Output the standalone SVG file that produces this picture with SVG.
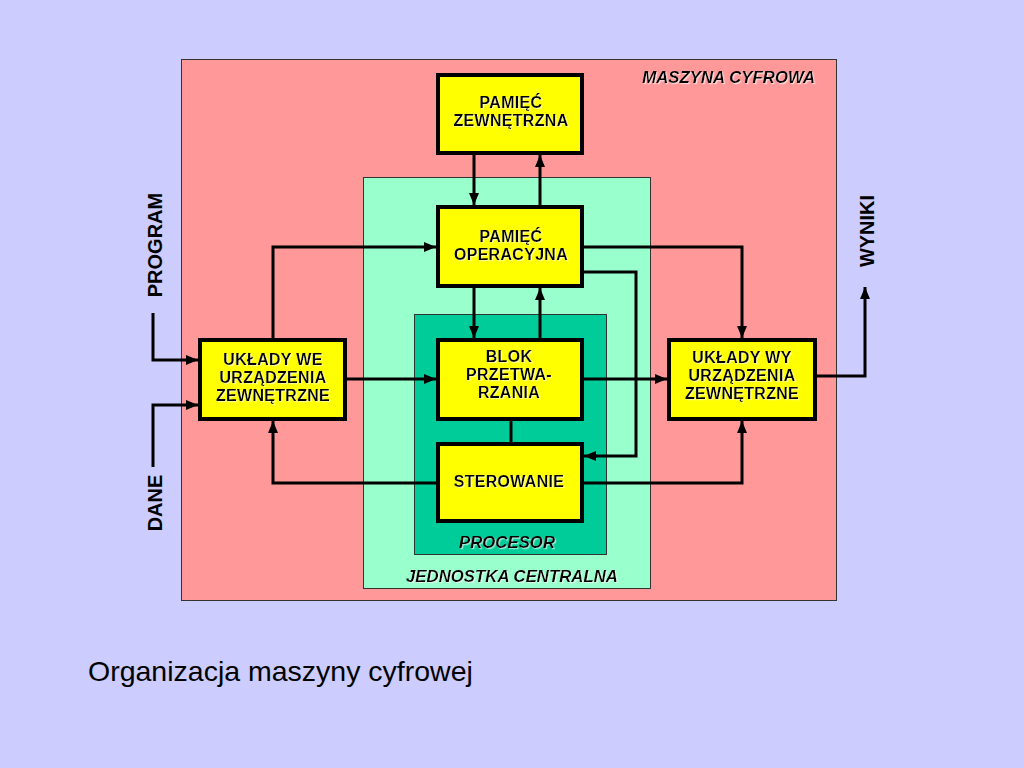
<svg xmlns="http://www.w3.org/2000/svg" width="1024" height="768" viewBox="0 0 1024 768">
<style>
.area{stroke:#333;stroke-width:1}
.box{fill:#FFFF00;stroke:#000;stroke-width:4}
.t{font-family:"Liberation Sans",Arial,sans-serif;font-weight:bold;font-size:16px;letter-spacing:0.3px;fill:#000;text-anchor:middle;filter:url(#sh)}
.lab{font-family:"Liberation Sans",Arial,sans-serif;font-weight:bold;font-style:italic;font-size:16.8px;fill:#000;filter:url(#sh)}
.side{font-family:"Liberation Sans",Arial,sans-serif;font-weight:bold;font-size:20px;fill:#000;text-anchor:middle}
.c{fill:none;stroke:#000;stroke-width:3}
.a{marker-end:url(#ah)}
</style>
<defs>
<marker id="ah" markerUnits="userSpaceOnUse" markerWidth="13" markerHeight="11" refX="12" refY="5" orient="auto">
<path d="M0,0 L12,5 L0,10 z" fill="#000"/>
</marker>
<filter id="sh" x="-10%" y="-30%" width="120%" height="160%">
<feDropShadow dx="1.2" dy="1.2" stdDeviation="0.4" flood-color="#ffffff" flood-opacity="0.6"/>
</filter>
</defs>
<rect width="1024" height="768" fill="#CCCCFF"/>
<g id="maszyna-cyfrowa">
<rect class="area" x="181.5" y="59.5" width="655" height="541" fill="#FF9999"/>
<text class="lab" x="815" y="83" text-anchor="end">MASZYNA CYFROWA</text>
</g>
<g id="jednostka-centralna">
<rect class="area" x="363.5" y="177.5" width="287" height="411" fill="#99FFCC"/>
<text class="lab" x="512" y="582" text-anchor="middle">JEDNOSTKA CENTRALNA</text>
</g>
<g id="procesor">
<rect class="area" x="414.5" y="314.5" width="192" height="240" fill="#00CC99"/>
<text class="lab" x="507" y="548" text-anchor="middle">PROCESOR</text>
</g>
<g id="connectors">
<path class="c a" d="M474,155 V205"/>
<path class="c a" d="M540,205 V155"/>
<path class="c a" d="M474,288 V338"/>
<path class="c a" d="M540,338 V288"/>
<path class="c a" d="M273,338 V247 H436"/>
<path class="c a" d="M347,379 H436"/>
<path class="c a" d="M584,379 H667"/>
<path class="c a" d="M584,247 H742 V338"/>
<path class="c a" d="M584,272 H636 V456 H584"/>
<path class="c" d="M511,421 V442"/>
<path class="c a" d="M436,483 H273 V421"/>
<path class="c a" d="M584,483 H742 V421"/>
<path class="c a" d="M153,313 V360 H198"/>
<path class="c a" d="M153,467 V405 H198"/>
<path class="c a" d="M817,376 H865 V287"/>
</g>
<g id="pamiec-zewnetrzna">
<rect class="box" x="438" y="75" width="144" height="78"/>
<text class="t" x="511" y="108">PAMIĘĆ</text>
<text class="t" x="511" y="126">ZEWNĘTRZNA</text>
</g>
<g id="pamiec-operacyjna">
<rect class="box" x="438" y="207" width="144" height="79"/>
<text class="t" x="511" y="242">PAMIĘĆ</text>
<text class="t" x="511" y="260">OPERACYJNA</text>
</g>
<g id="blok-przetwarzania">
<rect class="box" x="438" y="340" width="144" height="79"/>
<text class="t" x="509" y="362">BLOK</text>
<text class="t" x="509" y="380">PRZETWA-</text>
<text class="t" x="509" y="398">RZANIA</text>
</g>
<g id="sterowanie">
<rect class="box" x="438" y="444" width="144" height="77"/>
<text class="t" x="509" y="487">STEROWANIE</text>
</g>
<g id="uklady-we">
<rect class="box" x="200" y="340" width="145" height="79"/>
<text class="t" x="273" y="365">UKŁADY WE</text>
<text class="t" x="273" y="383">URZĄDZENIA</text>
<text class="t" x="273" y="401">ZEWNĘTRZNE</text>
</g>
<g id="uklady-wy">
<rect class="box" x="669" y="340" width="146" height="79"/>
<text class="t" x="742" y="363">UKŁADY WY</text>
<text class="t" x="742" y="381">URZĄDZENIA</text>
<text class="t" x="742" y="399">ZEWNĘTRZNE</text>
</g>
<g id="program">
<text class="side" transform="translate(162,245) rotate(-90)">PROGRAM</text>
</g>
<g id="dane">
<text class="side" transform="translate(162,503) rotate(-90)">DANE</text>
</g>
<g id="wyniki">
<text class="side" transform="translate(874,231) rotate(-90)">WYNIKI</text>
</g>
<text x="88" y="681" font-family="'Liberation Sans',Arial,sans-serif" font-size="28.5" fill="#000">Organizacja maszyny cyfrowej</text>
</svg>
